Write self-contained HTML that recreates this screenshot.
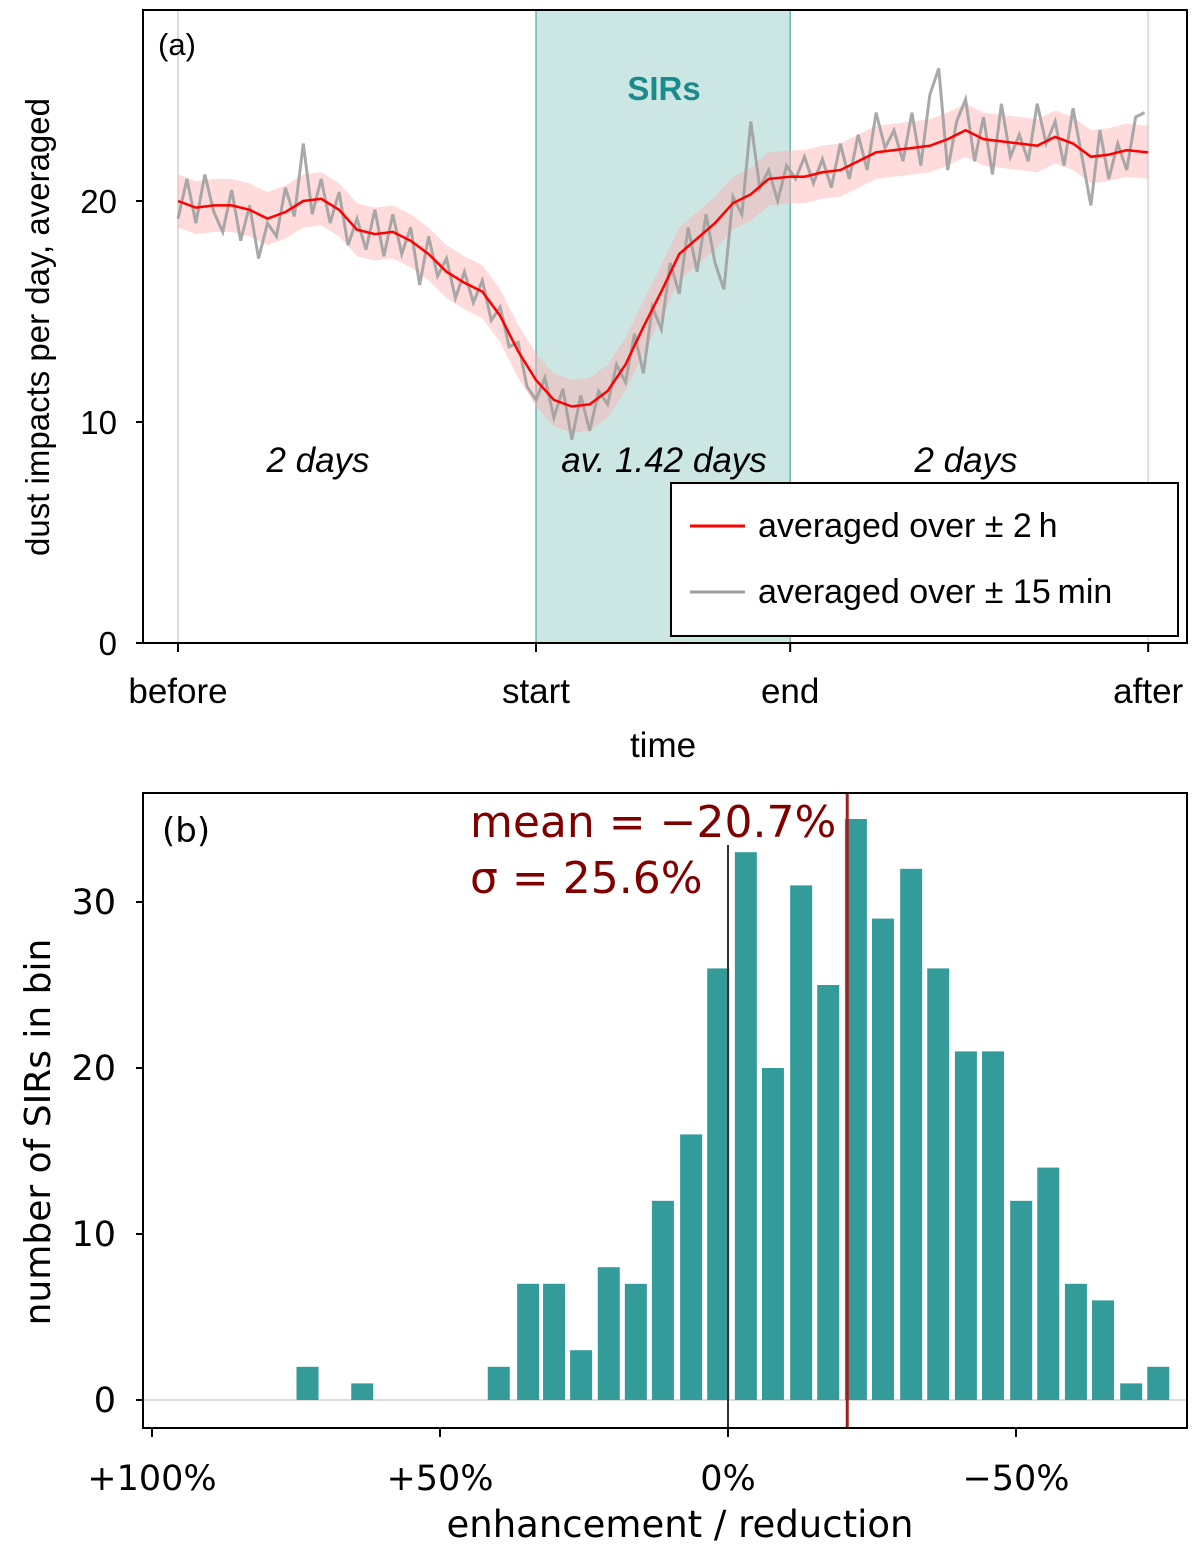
<!DOCTYPE html>
<html><head><meta charset="utf-8"><style>
body{margin:0;background:#fff;}
</style></head><body>
<svg id="fig" width="1200" height="1554" xmlns="http://www.w3.org/2000/svg">
<g id="top"></g>
<g id="bot"></g>
</svg>
<script>
// ---------- Panel (a) data ----------
const redT = [-2,-1.9,-1.8,-1.7,-1.6,-1.5,-1.4,-1.3,-1.2,-1.1,-1.0,-0.9,-0.8,-0.7,-0.6,-0.5,-0.4,-0.3,-0.2,-0.1,0,0.1,0.2,0.3,0.4,0.5,0.6,0.7,0.8,0.9,1.0,1.1,1.2,1.3,1.42,1.5,1.6,1.7,1.8,1.9,2.0,2.1,2.2,2.3,2.4,2.5,2.6,2.7,2.8,2.9,3.0,3.1,3.2,3.3,3.42];
const redV = [20.0,19.7,19.8,19.8,19.6,19.2,19.5,20.0,20.1,19.6,18.7,18.5,18.6,18.2,17.6,16.8,16.3,15.9,14.8,13.2,11.9,11.0,10.7,10.8,11.4,12.6,14.3,15.9,17.6,18.3,19.0,19.9,20.3,21.0,21.1,21.1,21.3,21.4,21.8,22.2,22.3,22.4,22.5,22.8,23.2,22.8,22.7,22.6,22.5,22.9,22.6,22.0,22.1,22.3,22.2];
const grayStart = -2, grayStep = 0.05;
const grayV = [19.2,21.0,19.0,21.2,19.5,18.6,20.5,18.2,19.8,17.4,19.0,18.4,20.6,19.3,22.6,19.4,21.0,19.0,20.4,18.0,19.2,17.8,19.6,17.5,19.4,17.6,18.8,16.2,18.4,16.6,17.4,15.6,16.8,15.4,16.4,14.6,15.2,13.4,13.6,11.6,11.0,12.0,10.2,11.5,9.2,11.2,9.6,11.4,10.8,12.6,11.8,14.0,12.2,15.2,14.2,17.2,15.8,18.8,16.8,19.4,17.2,16.0,20.2,19.4,23.6,20.6,21.4,20.0,21.6,21.0,22.0,20.8,21.9,20.6,22.6,21.0,23.0,21.4,24.0,22.4,23.2,21.8,24.0,21.6,24.8,26.0,21.4,23.6,24.6,21.8,23.8,21.2,24.4,22.0,23.0,21.8,24.4,22.6,23.6,21.6,24.2,22.0,19.8,23.2,21.0,22.6,21.4,23.8,24.0];
const yTicksA = [0,10,20];
const xTickT = [-2,0,1.42,3.42];
const xTickL = ["before","start","end","after"];

// ---------- Panel (b) data ----------
const binCenters = [73.0,63.5,39.8,34.7,30.2,25.5,20.7,16.0,11.3,6.4,1.7,-3.1,-7.8,-12.7,-17.4,-22.2,-26.9,-31.8,-36.5,-41.3,-46.0,-50.9,-55.6,-60.4,-65.1,-70.0,-74.7];
const binCounts = [2,1,2,7,7,3,8,7,12,16,26,33,20,31,25,35,29,32,26,21,21,12,14,7,6,1,2];
const yTicksB = [0,10,20,30];
const xTicksB = [100,50,0,-50];
const xTickLB = ["+100%","+50%","0%","\u221250%"];
const meanVal = -20.7;

const NS="http://www.w3.org/2000/svg";
const LIB='"Liberation Sans", sans-serif', DJV='"DejaVu Sans", sans-serif';
function mk(p,tag,attrs,name,txt){const e=document.createElementNS(NS,tag);
if(tag==='text'&&!attrs['font-family'])attrs['font-family']=LIB;
for(const k in attrs)e.setAttribute(k,attrs[k]);


if(txt!==undefined)e.textContent=txt;p.appendChild(e);return e;}

// Panel a
const A=document.getElementById('top');
const xA=t=>536+t*179, yA=v=>643-v*22.1;
mk(A,'rect',{x:xA(0),y:10,width:xA(1.42)-xA(0),height:633,fill:'#cce6e4',stroke:'#4aa7a5','stroke-width':1.2},'sir-shade');
mk(A,'line',{x1:xA(-2),x2:xA(-2),y1:10,y2:643,stroke:'#ddd','stroke-width':2},'before-line');
mk(A,'line',{x1:xA(3.42),x2:xA(3.42),y1:10,y2:643,stroke:'#ddd','stroke-width':2},'after-line');
let up='',dn='';
redT.forEach((t,i)=>{up+=(i?'L':'M')+xA(t)+','+yA(redV[i]+1.2);});
for(let i=redT.length-1;i>=0;i--)dn+='L'+xA(redT[i])+','+yA(redV[i]-1.2);
mk(A,'path',{d:up+dn+'Z',fill:'#ffb0b0','fill-opacity':0.45},'red-band');
let g='';grayV.forEach((v,i)=>{g+=(i?'L':'M')+xA(grayStart+i*grayStep)+','+yA(v);});
mk(A,'path',{d:g,fill:'none',stroke:'#a0a0a0','stroke-width':3,'stroke-opacity':0.9},'gray-line');
let r='';redV.forEach((v,i)=>{r+=(i?'L':'M')+xA(redT[i])+','+yA(v);});
mk(A,'path',{d:r,fill:'none',stroke:'#f00','stroke-width':2.5},'red-line');
mk(A,'rect',{x:143,y:10,width:1044,height:633,fill:'none',stroke:'#000','stroke-width':2},'axes-box-a');
yTicksA.forEach(v=>{mk(A,'line',{x1:136,x2:143,y1:yA(v),y2:yA(v),stroke:'#000','stroke-width':2},'y-tick');
mk(A,'text',{x:117,y:yA(v)+12,'font-size':33,'text-anchor':'end'},'y-tick-label',String(v));});
xTickT.forEach((t,i)=>{mk(A,'line',{x1:xA(t),x2:xA(t),y1:643,y2:652,stroke:'#000','stroke-width':2},'x-tick');
mk(A,'text',{x:xA(t),y:703,'font-size':35,'text-anchor':'middle'},'x-tick-label',xTickL[i]);});
mk(A,'text',{x:663,y:757,'font-size':35,'text-anchor':'middle'},'x-axis-title','time');
mk(A,'text',{x:0,y:0,'font-size':33,'text-anchor':'middle',transform:'translate(49,327) rotate(-90)'},'y-axis-title','dust impacts per day, averaged');
mk(A,'text',{x:158,y:55,'font-size':31},'panel-label-a','(a)');
mk(A,'text',{x:664,y:100,'font-size':33,'font-weight':'bold','text-anchor':'middle',fill:'#1a8a8a'},'sirs-label','SIRs');
mk(A,'text',{x:318,y:472,'font-size':35,'font-style':'italic','text-anchor':'middle'},'before-duration','2 days');
mk(A,'text',{x:664,y:472,'font-size':35,'font-style':'italic','text-anchor':'middle'},'sir-duration','av. 1.42 days');
mk(A,'text',{x:966,y:472,'font-size':35,'font-style':'italic','text-anchor':'middle'},'after-duration','2 days');
mk(A,'rect',{x:671,y:483,width:507,height:153,fill:'#fff',stroke:'#000','stroke-width':2},'legend-box');
mk(A,'line',{x1:690,x2:745,y1:526,y2:526,stroke:'#f00','stroke-width':3},'legend-red-swatch');
mk(A,'text',{x:758,y:537,'font-size':34},'legend-red-label','averaged over \u00b1 2\u2009h');
mk(A,'line',{x1:690,x2:745,y1:592,y2:592,stroke:'#a0a0a0','stroke-width':3},'legend-gray-swatch');
mk(A,'text',{x:758,y:603,'font-size':34},'legend-gray-label','averaged over \u00b1 15\u2009min');

// Panel b
const B=document.getElementById('bot');
const xB=v=>728-v*5.76, yB=c=>1400-c*16.6;
mk(B,'line',{x1:143,x2:1187,y1:yB(0),y2:yB(0),stroke:'#ddd','stroke-width':2},'zero-line');
binCenters.forEach((c,i)=>{const w=22;
mk(B,'rect',{x:xB(c)-w/2,y:yB(binCounts[i]),width:w,height:yB(0)-yB(binCounts[i]),fill:'#339b99'},'bar');});
mk(B,'line',{x1:xB(0),x2:xB(0),y1:845,y2:1428,stroke:'#333','stroke-width':2},'zero-percent-line');
mk(B,'line',{x1:xB(meanVal),x2:xB(meanVal),y1:793,y2:1428,stroke:'#a02020','stroke-width':3},'mean-line');
mk(B,'rect',{x:143,y:793,width:1044,height:635,fill:'none',stroke:'#000','stroke-width':2},'axes-box-b');
yTicksB.forEach(v=>{mk(B,'line',{x1:136,x2:143,y1:yB(v),y2:yB(v),stroke:'#000','stroke-width':2},'y-tick');
mk(B,'text',{x:116,y:yB(v)+12,'font-size':35,'text-anchor':'end','font-family':DJV},'y-tick-label',String(v));});
xTicksB.forEach((v,i)=>{mk(B,'line',{x1:xB(v),x2:xB(v),y1:1428,y2:1437,stroke:'#000','stroke-width':2},'x-tick');
mk(B,'text',{x:xB(v),y:1490,'font-size':35,'text-anchor':'middle','font-family':DJV},'x-tick-label',xTickLB[i]);});
mk(B,'text',{x:680,y:1537,'font-size':37,'text-anchor':'middle','font-family':DJV},'x-axis-title','enhancement / reduction');
mk(B,'text',{x:0,y:0,'font-size':36,'text-anchor':'middle','font-family':DJV,transform:'translate(50,1132) rotate(-90)'},'y-axis-title','number of SIRs in bin');
mk(B,'text',{x:162,y:842,'font-size':34,'font-family':DJV},'panel-label-b','(b)');
mk(B,'text',{x:470,y:837,'font-size':44,fill:'#800000','font-family':DJV},'mean-annotation','mean = \u221220.7%');
mk(B,'text',{x:470,y:893,'font-size':44,fill:'#800000','font-family':DJV},'sigma-annotation','\u03c3 = 25.6%');
</script>
</body></html>
